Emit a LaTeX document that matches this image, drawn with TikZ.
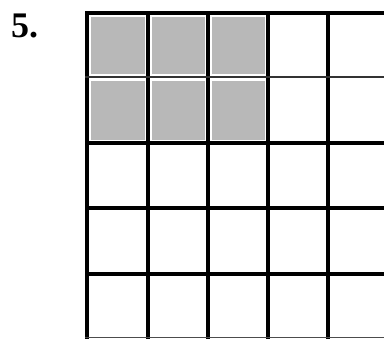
\documentclass[tikz,border=0pt]{standalone}
\usepackage{fontspec}
\setmainfont{Liberation Serif}
\begin{document}
\begin{tikzpicture}[x=1pt,y=-1pt,
  gridline/.style={line width=3.6pt,black},
  thinline/.style={line width=2.2pt,black!80},
  shade/.style={fill=black!28,draw=none}]
\useasboundingbox (0,0) rectangle (384,339);
% shaded cells
\foreach \cx/\cxx in {87/148,148/208,208/268}{
  \foreach \cy/\cyy in {13/77,77/143}{
    \fill[shade] (\cx+4,\cy+4) rectangle (\cxx-3,\cyy-3);
  }
}
% vertical lines
\foreach \x in {87,148,208,268,328}{
  \draw[gridline] (\x,11.2) -- (\x,339);
}
% horizontal lines
\draw[gridline] (85.2,13) -- (384,13);
\draw[thinline] (85.2,77) -- (384,77);
\foreach \y in {143,208,274}{
  \draw[gridline] (85.2,\y) -- (384,\y);
}
\draw[line width=1pt,black!70] (85.2,337.8) -- (384,337.8);
% label
\node[anchor=north west,inner sep=0pt,font=\bfseries\fontsize{36}{40}\selectfont] (lbl) at (11,14) {5.};
\end{tikzpicture}
\end{document}
